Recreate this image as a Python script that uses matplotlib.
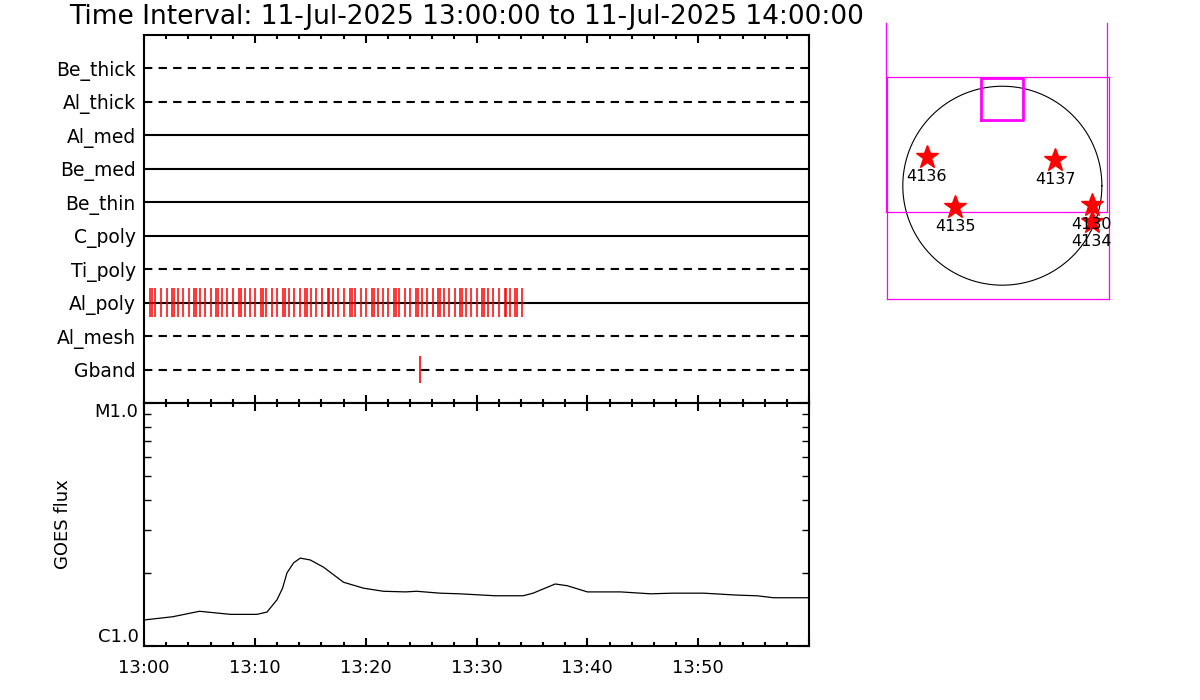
import numpy as np
import matplotlib
matplotlib.use("Agg")
import matplotlib.pyplot as plt
from matplotlib.ticker import FixedLocator, MultipleLocator, FuncFormatter, NullFormatter, LogLocator

# --- attenuator / detector rows (top to bottom) ---
row_names = ["Be_thick", "Al_thick", "Al_med", "Be_med", "Be_thin",
             "C_poly", "Ti_poly", "Al_poly", "Al_mesh", "Gband"]
row_dashed = [True, True, False, False, False, False, True, False, True, True]

# event times, minutes after 13:00
al_poly_t = [0.00, 0.54, 0.72, 1.02, 1.56, 2.05, 2.56, 2.71, 3.10, 3.55, 4.09,
             4.54, 4.69, 5.08, 5.53, 6.08, 6.53, 6.68, 7.07, 7.52, 8.06, 8.60,
             8.75, 9.08, 9.56, 10.05, 10.59, 10.74, 11.04, 11.58, 12.03, 12.57,
             12.72, 13.05, 13.53, 14.08, 14.56, 14.71, 15.07, 15.55, 16.09,
             16.57, 16.72, 17.08, 17.53, 18.05, 18.59, 18.74, 19.07, 19.55,
             20.06, 20.60, 20.75, 21.08, 21.56, 22.05, 22.59, 22.74, 23.04,
             23.55, 24.03, 24.54, 24.69, 25.05, 25.53, 26.05, 26.56, 26.71,
             27.07, 27.52, 28.03, 28.54, 28.69, 29.05, 29.50, 30.02, 30.53,
             30.68, 31.07, 31.52, 32.03, 32.54, 32.69, 33.02, 33.50, 33.62, 34.11]
gband_t = [24.9]

# GOES flux curve
goes_t = [0.0, 2.6, 5.0, 7.8, 10.2, 11.1, 12.0, 12.5, 12.9, 13.5, 14.1, 15.0,
          16.2, 18.0, 19.8, 21.6, 23.6, 24.6, 26.7, 28.5, 30.6, 31.7, 34.2,
          35.1, 37.1, 38.2, 40.0, 43.0, 45.7, 47.7, 50.5, 53.5, 55.3, 56.8,
          58.6, 60.0]
goes_flux = [1.28e-6, 1.32e-6, 1.39e-6, 1.35e-6, 1.35e-6, 1.38e-6, 1.55e-6,
             1.73e-6, 2.00e-6, 2.20e-6, 2.30e-6, 2.26e-6, 2.11e-6, 1.83e-6,
             1.73e-6, 1.68e-6, 1.67e-6, 1.68e-6, 1.65e-6, 1.64e-6, 1.62e-6,
             1.61e-6, 1.61e-6, 1.65e-6, 1.80e-6, 1.77e-6, 1.67e-6, 1.67e-6,
             1.64e-6, 1.65e-6, 1.65e-6, 1.62e-6, 1.61e-6, 1.58e-6, 1.58e-6,
             1.58e-6]

# solar map (arcsec)
ar_names = ["4136", "4137", "4135", "4130", "4134"]
ar_x = [-729, 508, -456, 862, 862]
ar_y = [274, 248, -208, -186, -347]
fov_x = [-1122, -1122, 1010, 1010]
fov_y = [1570, -254, -254, 1570]
box_x = [-208, -208, 203, 203, -208]
box_y = [634, 1036, 1036, 634, 634]
sun_r = 960

plt.rcParams["font.family"] = "DejaVu Sans"

fig = plt.figure(figsize=(12, 7), dpi=100)
ax1 = fig.add_axes([0.12, 0.4243, 0.5542, 0.5257])
ax2 = fig.add_axes([0.12, 0.0771, 0.5542, 0.3472])
ax3 = fig.add_axes([0.7392, 0.5729, 0.185, 0.3171])

fig.text(0.058, 0.975, "Time Interval: 11-Jul-2025 13:00:00 to 11-Jul-2025 14:00:00",
         fontsize=19, va="center", ha="left")

# --- top panel ---
n = len(row_names)
row_y = np.arange(n, 0, -1)
for name, y, dashed in zip(row_names, row_y, row_dashed):
    ls = (0, (4, 3)) if dashed else "-"
    ax1.plot([0, 60], [y, y], color="black", lw=1.5, ls=ls)

idx = row_names.index("Al_poly")
ax1.vlines(al_poly_t, row_y[idx] - 0.43, row_y[idx] + 0.43, color="red", lw=1.1)
idx = row_names.index("Gband")
ax1.vlines(gband_t, row_y[idx] - 0.4, row_y[idx] + 0.4, color="red", lw=1.2)

ax1.set_xlim(0, 60)
ax1.set_ylim(0, n + 1)
ax1.set_yticks(row_y)
ax1.set_yticklabels(row_names, fontsize=13.5)
ax1.tick_params(axis="y", length=0, pad=6)
ax1.xaxis.set_major_locator(MultipleLocator(10))
ax1.xaxis.set_minor_locator(MultipleLocator(2))
ax1.xaxis.set_major_formatter(NullFormatter())
ax1.tick_params(axis="x", which="major", direction="in", top=True, bottom=True,
                length=6, width=1.5)
ax1.tick_params(axis="x", which="minor", direction="in", top=True, bottom=True,
                length=3, width=1.5)

# --- GOES panel ---
ax2.plot(goes_t, goes_flux, color="black", lw=0.9)
ax2.set_yscale("log")
ax2.set_xlim(0, 60)
ax2.set_ylim(1e-6, 1e-5)
ax2.yaxis.set_major_locator(FixedLocator([1e-6, 1e-5]))
ax2.yaxis.set_major_formatter(FuncFormatter(lambda v, p: "C1.0" if v < 5e-6 else "M1.0"))
ax2.yaxis.set_minor_locator(LogLocator(base=10, subs=np.arange(2, 10)))
ax2.yaxis.set_minor_formatter(NullFormatter())
ax2.xaxis.set_major_locator(FixedLocator([0, 10, 20, 30, 40, 50, 60]))
ax2.xaxis.set_minor_locator(MultipleLocator(2))
ax2.xaxis.set_major_formatter(FuncFormatter(
    lambda v, p: "13:%02d" % v if v < 60 else ""))
ax2.tick_params(axis="x", which="major", direction="in", top=True, bottom=True,
                length=6, width=1.5, labelsize=13, pad=9)
ax2.tick_params(axis="x", which="minor", direction="in", top=True, bottom=True,
                length=3, width=1.5)
ax2.tick_params(axis="y", which="major", direction="in", left=True, right=True,
                length=8, width=1.5, labelsize=13, pad=4)
ax2.tick_params(axis="y", which="minor", direction="in", left=True, right=True,
                length=5, width=1)
ax2.set_ylabel("GOES flux", fontsize=13, labelpad=16)
labs = ax2.get_yticklabels()
labs[0].set_va("bottom")
labs[1].set_va("top")

for ax in (ax1, ax2):
    for sp in ax.spines.values():
        sp.set_linewidth(1.5)

# --- solar map ---
theta = np.linspace(0, 2 * np.pi, 400)
ax3.plot(sun_r * np.cos(theta), sun_r * np.sin(theta), color="black", lw=0.8)
ax3.plot(fov_x, fov_y, color="magenta", lw=0.9, clip_on=False)
ax3.plot(box_x, box_y, color="magenta", lw=2, clip_on=False)
ax3.plot(ar_x, ar_y, ls="none", marker="*", ms=17, color="red", mec="red", clip_on=False)
for name, x, y in zip(ar_names, ar_x, ar_y):
    ax3.annotate(name, (x, y), xytext=(0, -14), textcoords="offset points",
                 ha="center", va="center", fontsize=11.5, annotation_clip=False)
ax3.set_xlim(-1112, 1029)
ax3.set_ylim(-1093, 1049)
ax3.set_xticks([])
ax3.set_yticks([])
for sp in ax3.spines.values():
    sp.set_color("magenta")
    sp.set_linewidth(0.9)

fig.savefig("out.png", dpi=100)
